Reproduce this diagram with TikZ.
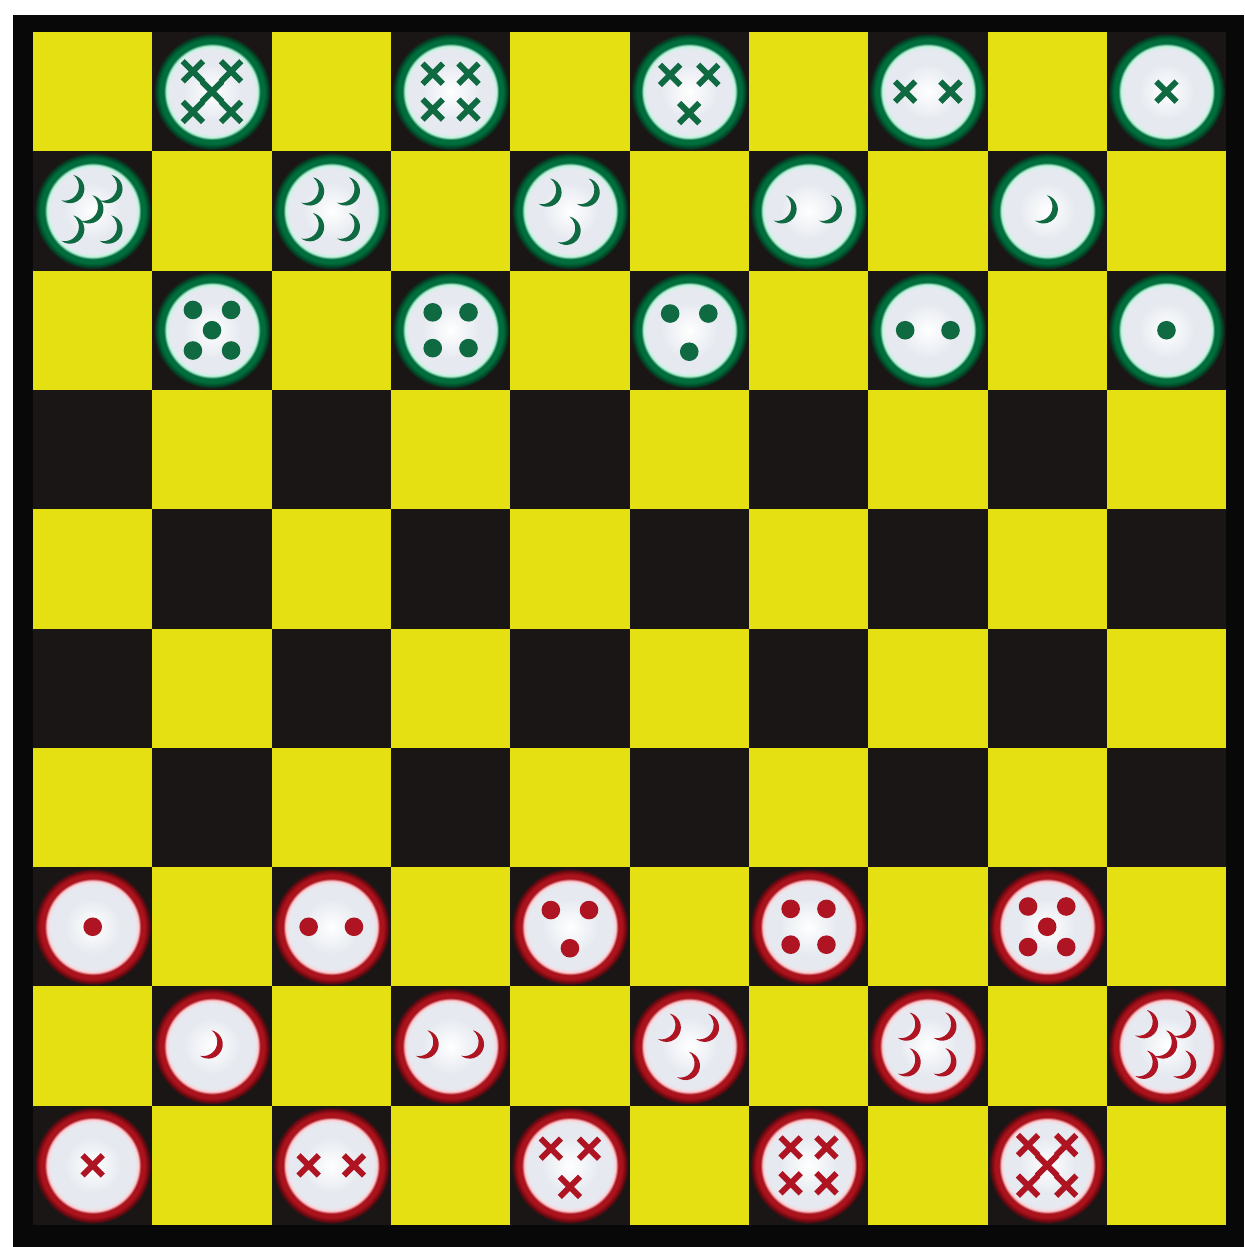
\documentclass[tikz,border=0pt]{standalone}
\usetikzlibrary{positioning}

\definecolor{boardyellow}{RGB}{229,224,18}
\definecolor{boarddark}{RGB}{27,22,22}
\definecolor{boardframe}{RGB}{8,8,8}
\definecolor{pieceface}{RGB}{230,234,240}
\definecolor{greentint}{RGB}{190,245,220}
\definecolor{greenrim}{RGB}{0,110,60}
\definecolor{greendeep}{RGB}{0,70,38}
\definecolor{greenmark}{RGB}{15,105,65}
\definecolor{redtint}{RGB}{255,205,210}
\definecolor{redrim}{RGB}{170,18,28}
\definecolor{reddeep}{RGB}{110,8,15}
\definecolor{redmark}{RGB}{175,20,35}

% piece faces: light centre, tinted edge, coloured rim fading into the square
\pgfdeclareradialshading{greenman}{\pgfpoint{0bp}{0bp}}{color(0bp)=(white); color(12bp)=(pieceface); color(18.3bp)=(pieceface); color(19.6bp)=(greentint); color(20.6bp)=(greenrim); color(22.3bp)=(greenrim); color(23.8bp)=(greendeep); color(25bp)=(boarddark); color(50bp)=(boarddark)}
\pgfdeclareradialshading{redman}{\pgfpoint{0bp}{0bp}}{color(0bp)=(white); color(12bp)=(pieceface); color(18.3bp)=(pieceface); color(19.6bp)=(redtint); color(20.6bp)=(redrim); color(22.3bp)=(redrim); color(23.8bp)=(reddeep); color(25bp)=(boarddark); color(50bp)=(boarddark)}

% marks on a piece, drawn at (\u,\v)
\newcommand\markcross{\draw[line width=1.4pt] (\u-0.085,\v-0.085) -- (\u+0.085,\v+0.085) (\u-0.085,\v+0.085) -- (\u+0.085,\v-0.085);}
\newcommand\markdot{\fill (\u,\v) circle[radius=0.078];}
\newcommand\markmoon{\fill (\u-0.03,\v+0.015) ++(77:0.12) arc[start angle=77, end angle=-127, radius=0.12] arc[start angle=-103, end angle=53, radius=0.12] -- cycle;}

% #1 piece node, #2 how many, #3 kind of mark, #4 colour
\newcommand\putmarks[4]{%
  \ifcase#2\or\def\markpts{0/0}%
  \or\def\markpts{-0.19/0,0.19/0}%
  \or\def\markpts{-0.16/0.14,0.16/0.14,0/-0.18}%
  \or\def\markpts{-0.15/0.15,0.15/0.15,-0.15/-0.15,0.15/-0.15}%
  \or\def\markpts{-0.16/0.17,0.16/0.17,0/0,-0.16/-0.17,0.16/-0.17}\fi
  \begin{scope}[shift={(#1)}, fill=#4, draw=#4]
    \foreach \u/\v in \markpts {\csname mark#3\endcsname}
  \end{scope}}

\begin{document}
\begin{tikzpicture}[x=1cm, y=1cm,
    sq/.style={minimum size=1cm, inner sep=0pt, outer sep=0pt},
    lightsq/.style={sq, fill=boardyellow},
    darksq/.style={sq, fill=boarddark},
    piece/.style={circle, minimum size=0.98cm, inner sep=0pt, outer sep=0pt, shading=#1man}]
  \useasboundingbox (-0.277,-0.184) rectangle (10.151,10.268);
  \fill[boardframe] (-0.168,-0.184) rectangle (10.151,10.142);

  % the 10x10 board, row 0 at the top
  \foreach \i in {0,...,9} {
    \foreach \j in {0,...,9} {
      \pgfmathtruncatemacro\sqodd{mod(\i+\j,2)}
      \ifnum\sqodd=0
        \node[lightsq] (s\i\j) at (\j+0.5,9.5-\i) {};
      \else
        \node[darksq] (s\i\j) at (\j+0.5,9.5-\i) {};
      \fi
    }
  }

  % pieces: row / first column / side / mark / count = base + step*k
  \foreach \i/\first/\side/\kind/\base/\step in
      {0/1/green/cross/6/-1, 1/0/green/moon/6/-1, 2/1/green/dot/6/-1,
       7/0/red/dot/0/1, 8/1/red/moon/0/1, 9/0/red/cross/0/1} {
    \foreach \k in {1,...,5} {
      \pgfmathtruncatemacro\j{\first+2*\k-2}
      \pgfmathtruncatemacro\n{\base+\step*\k}
      \node[piece=\side] (p\i\j) at (s\i\j) {};
      \putmarks{p\i\j}{\n}{\kind}{\side mark}
    }
  }
\end{tikzpicture}
\end{document}
